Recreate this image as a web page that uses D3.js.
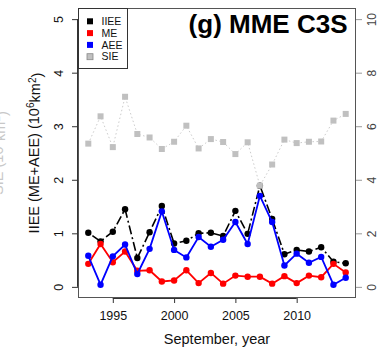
<!DOCTYPE html>
<html>
<head>
<meta charset="utf-8">
<script src="https://cdn.jsdelivr.net/npm/d3@7"></script>
<style>
  html, body { margin: 0; padding: 0; background: #fff; }
  svg { display: block; font-family: "Liberation Sans", Arial, sans-serif; }
</style>
</head>
<body>
<svg id="chart" width="382" height="347"></svg>
<script>
// September ice-edge error decomposition, multi-model ensemble vs C3S
const years = d3.range(1993, 2015);
const iiee = [1.01, 0.85, 1.03, 1.45, 0.54, 1.02, 1.51, 0.81, 0.86, 1.00, 1.01, 0.95,
              1.42, 0.99, 1.89, 1.27, 0.61, 0.69, 0.66, 0.74, 0.47, 0.44];
const me   = [0.43, 0.80, 0.46, 0.66, 0.30, 0.31, 0.10, 0.12, 0.31, 0.07, 0.26, 0.06,
              0.21, 0.19, 0.19, 0.06, 0.20, 0.07, 0.21, 0.18, 0.43, 0.27];
const aee  = [0.58, 0.04, 0.57, 0.79, 0.24, 0.71, 1.41, 0.69, 0.55, 0.93, 0.75, 0.88,
              1.21, 0.80, 1.70, 1.21, 0.40, 0.62, 0.45, 0.56, 0.04, 0.17];
const sie  = [5.35, 6.37, 5.22, 7.10, 5.71, 5.58, 5.15, 5.42, 6.02, 5.17, 5.52, 5.41,
              4.96, 5.40, 3.78, 4.57, 5.50, 5.37, 5.42, 5.43, 6.21, 6.46];
const xTicks = [1995, 2000, 2005, 2010];
const yTicks = [0, 1, 2, 3, 4, 5];
const y2Ticks = [0, 2, 4, 6, 8, 10];
const legendItems = [
  { label: "IIEE", color: "#000000" },
  { label: "ME",   color: "#ff0000" },
  { label: "AEE",  color: "#0000ff" },
  { label: "SIE",  color: "#c0c0c0" }
];

const svg = d3.select("#chart");
const L = 78, R = 356, T = 8, B = 298;

const x = d3.scaleLinear().domain([1992.16, 2014.84]).range([L, R]);
const y = d3.scaleLinear().domain([-0.208, 5.208]).range([B, T]);
const y2 = d3.scaleLinear().domain([-0.416, 10.416]).range([B, T]);

// axes
const gx = svg.append("g").attr("transform", `translate(0,${B})`)
  .call(d3.axisBottom(x).tickValues(xTicks).tickFormat(d3.format("d")).tickSize(5).tickSizeOuter(0));
gx.select(".domain").attr("d", `M${x(1995)},0.5H${x(2010)}`).attr("stroke", "#333");
gx.selectAll(".tick line").attr("stroke", "#333");
gx.selectAll(".tick text").attr("y", 0).attr("dy", 21.5)
  .attr("font-size", 12.5).attr("fill", "#111").attr("font-family", "Liberation Sans, Arial, sans-serif");

const gy = svg.append("g").attr("transform", `translate(${L},0)`)
  .call(d3.axisLeft(y).tickValues(yTicks).tickFormat(d3.format("d")).tickSize(6).tickSizeOuter(0));
gy.select(".domain").attr("d", `M-0.5,${y(0)}V${y(5)}`).attr("stroke", "#333");
gy.selectAll(".tick line").attr("stroke", "#333");
gy.selectAll(".tick text")
  .attr("x", null).attr("dy", null)
  .attr("text-anchor", "middle")
  .attr("transform", "translate(-15,0) rotate(-90)")
  .attr("font-size", 12.5).attr("fill", "#111").attr("font-family", "Liberation Sans, Arial, sans-serif");

const gy2 = svg.append("g").attr("transform", `translate(${R},0)`)
  .call(d3.axisRight(y2).tickValues(y2Ticks).tickFormat(d3.format("d")).tickSize(6).tickSizeOuter(0));
gy2.select(".domain").remove();
gy2.selectAll(".tick line").attr("stroke", "#999");
gy2.selectAll(".tick text")
  .attr("x", null).attr("dy", null)
  .attr("text-anchor", "middle")
  .attr("transform", "translate(19.5,0) rotate(-90)")
  .attr("font-size", 12).attr("fill", "#444").attr("font-family", "Liberation Sans, Arial, sans-serif");

// plot frame
svg.append("rect").attr("x", L + 0.5).attr("y", T + 0.5)
  .attr("width", R - L - 1).attr("height", B - T - 1)
  .attr("fill", "none").attr("stroke", "#555").attr("stroke-width", 1);

// axis titles
svg.append("text").attr("x", (L + R) / 2).attr("y", 344)
  .attr("text-anchor", "middle").attr("font-size", 14.5).attr("fill", "#111")
  .text("September, year");

function unitLabel(sel, name) {
  sel.append("tspan").text(name + " (10");
  sel.append("tspan").attr("dy", "-0.45em").attr("font-size", "0.7em").text("6");
  sel.append("tspan").attr("dy", "0.45em").text("km");
  sel.append("tspan").attr("dy", "-0.45em").attr("font-size", "0.7em").text("2");
  sel.append("tspan").attr("dy", "0.45em").text(")");
}
const ylab = svg.append("text")
  .attr("transform", `translate(38.5,${(T + B) / 2}) rotate(-90)`)
  .attr("text-anchor", "middle").attr("font-size", 14.5).attr("fill", "#111");
unitLabel(ylab, "IIEE (ME+AEE)");

// right-axis title sits just past the left margin
const y2lab = svg.append("text")
  .attr("transform", `translate(3,${(T + B) / 2}) rotate(-90)`)
  .attr("text-anchor", "middle").attr("font-size", 14.5).attr("fill", "#c8c8c8");
unitLabel(y2lab, "SIE");

// series
const line = (arr, sc) => d3.line().x((d, i) => x(years[i])).y(d => sc(d))(arr);

svg.append("path").attr("d", line(iiee, y)).attr("fill", "none")
  .attr("stroke", "#000").attr("stroke-width", 1.6).attr("stroke-dasharray", "2,3,9,3");
svg.append("g").selectAll("circle").data(iiee).join("circle")
  .attr("cx", (d, i) => x(years[i])).attr("cy", d => y(d)).attr("r", 3.2).attr("fill", "#000");

svg.append("path").attr("d", line(me, y)).attr("fill", "none")
  .attr("stroke", "#ff0000").attr("stroke-width", 1.8);
svg.append("g").selectAll("circle").data(me).join("circle")
  .attr("cx", (d, i) => x(years[i])).attr("cy", d => y(d)).attr("r", 3.2).attr("fill", "#ff0000");

svg.append("path").attr("d", line(aee, y)).attr("fill", "none")
  .attr("stroke", "#0000ff").attr("stroke-width", 1.8);
svg.append("g").selectAll("circle").data(aee).join("circle")
  .attr("cx", (d, i) => x(years[i])).attr("cy", d => y(d)).attr("r", 3.2).attr("fill", "#0000ff");

svg.append("path").attr("d", line(sie, y2)).attr("fill", "none")
  .attr("stroke", "#cccccc").attr("stroke-width", 1).attr("stroke-dasharray", "1.5,2.5");
svg.append("g").selectAll("rect").data(sie).join("rect")
  .attr("x", (d, i) => x(years[i]) - 3).attr("y", d => y2(d) - 3)
  .attr("width", 6).attr("height", 6).attr("fill", "#c0c0c0");

// title
svg.append("text").attr("x", 347.5).attr("y", 33)
  .attr("text-anchor", "end").attr("font-size", 26).attr("font-weight", "bold")
  .attr("fill", "#000").text("(g) MME C3S");

// legend
const lg = svg.append("g");
lg.append("rect").attr("x", L + 0.5).attr("y", T + 0.5).attr("width", 49).attr("height", 60)
  .attr("fill", "#fff").attr("stroke", "#333");
const ly = d3.scalePoint().domain(legendItems.map(d => d.label)).range([21.3, 56.7]);
legendItems.forEach(d => {
  lg.append("rect").attr("x", 87).attr("y", ly(d.label) - 3).attr("width", 6).attr("height", 6)
    .attr("fill", d.color).attr("stroke", d.label === "SIE" ? "#888" : "none").attr("stroke-width", 0.8);
  lg.append("text").attr("x", 101.5).attr("y", ly(d.label)).attr("dy", "0.36em")
    .attr("font-size", 10.5).attr("fill", "#111").text(d.label);
});
</script>
</body>
</html>
